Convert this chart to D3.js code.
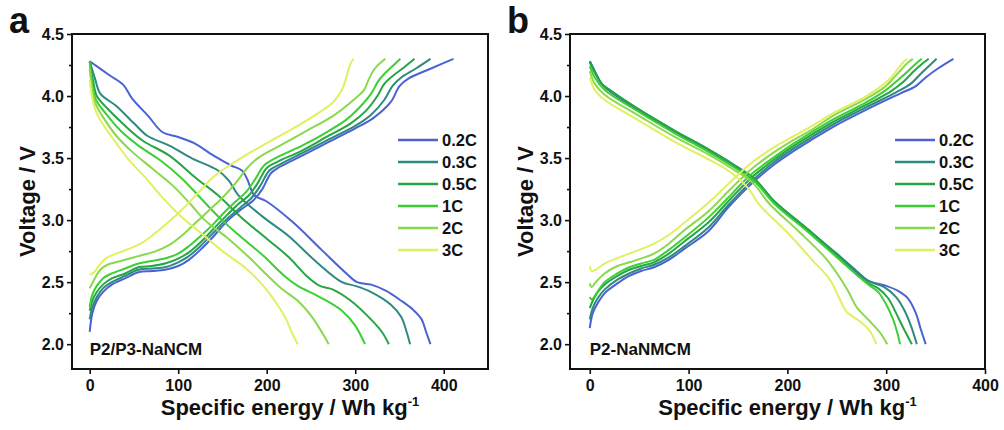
<!DOCTYPE html>
<html lang="en">
<head>
    <meta charset="UTF-8">
    <title>Voltage profiles</title>
    <script src="https://cdn.jsdelivr.net/npm/d3@7"></script>
    <style>
        body { margin: 0; background: #fff; }
        text { font-family: "Liberation Sans", Arial, sans-serif; font-weight: bold; fill: #111; }
        .tick line { stroke: #111; stroke-width: 1.6; }
        .domain { display: none; }
    </style>
</head>
<body>
<div id="container"></div>
<script>
    // rates shown in the legend
    const rates = ["0.2C", "0.3C", "0.5C", "1C", "2C", "3C"];
    const yTicks = [2.0, 2.5, 3.0, 3.5, 4.0, 4.5];
    const yMinor = [2.25, 2.75, 3.25, 3.75, 4.25];
    const xTicks = [0, 100, 200, 300, 400];

    // panel a, P2/P3-NaNCM: [specific energy, voltage]
    const aChg02 = [[0,2.10],[3,2.25],[8,2.35],[15,2.42],[25,2.48],[40,2.53],[55,2.58],[70,2.59],[85,2.60],[100,2.63],[112,2.68],[125,2.76],[140,2.87],[155,2.99],[170,3.08],[185,3.16],[195,3.25],[205,3.38],[215,3.43],[240,3.52],[270,3.63],[300,3.74],[320,3.82],[340,3.95],[350,4.08],[360,4.14],[385,4.22],[411,4.30]];
    const aChg03 = [[0,2.20],[3,2.30],[8,2.38],[15,2.45],[25,2.50],[40,2.55],[55,2.60],[70,2.61],[85,2.62],[100,2.66],[112,2.71],[125,2.79],[140,2.90],[155,3.01],[170,3.10],[183,3.18],[193,3.28],[203,3.40],[215,3.45],[240,3.54],[270,3.65],[300,3.76],[318,3.85],[333,3.97],[342,4.08],[352,4.15],[368,4.22],[385,4.30]];
    const aChg05 = [[0,2.27],[3,2.35],[8,2.42],[15,2.48],[25,2.53],[40,2.57],[55,2.62],[70,2.63],[85,2.65],[100,2.69],[112,2.74],[125,2.82],[140,2.93],[155,3.04],[168,3.13],[180,3.20],[190,3.30],[200,3.42],[212,3.47],[240,3.56],[270,3.68],[295,3.78],[312,3.88],[325,4.00],[333,4.10],[342,4.16],[355,4.23],[367,4.30]];
    const aChg1 = [[0,2.30],[3,2.40],[8,2.47],[15,2.53],[25,2.57],[40,2.61],[55,2.65],[70,2.67],[85,2.69],[100,2.73],[112,2.79],[125,2.87],[140,2.97],[153,3.07],[165,3.15],[177,3.23],[187,3.33],[197,3.44],[210,3.50],[240,3.60],[268,3.71],[290,3.81],[305,3.91],[318,4.02],[326,4.12],[333,4.18],[342,4.24],[351,4.30]];
    const aChg2 = [[0,2.45],[5,2.52],[12,2.60],[20,2.64],[35,2.67],[55,2.71],[75,2.75],[90,2.80],[105,2.88],[120,2.98],[135,3.08],[150,3.18],[165,3.30],[178,3.42],[190,3.50],[215,3.60],[245,3.72],[275,3.84],[300,3.98],[310,4.05],[315,4.13],[322,4.22],[334,4.30]];
    const aChg3 = [[0,2.56],[5,2.58],[10,2.63],[18,2.69],[30,2.73],[45,2.77],[60,2.82],[75,2.90],[90,2.99],[105,3.09],[120,3.20],[140,3.35],[160,3.45],[185,3.56],[210,3.66],[235,3.76],[260,3.87],[275,3.95],[285,4.05],[290,4.15],[294,4.25],[298,4.30]];
    const aDis02 = [[0,4.28],[22,4.17],[38,4.09],[48,3.98],[66,3.84],[82,3.71],[100,3.67],[118,3.62],[140,3.52],[160,3.44],[172,3.40],[178,3.33],[186,3.20],[200,3.15],[230,2.98],[262,2.76],[290,2.57],[302,2.50],[318,2.48],[335,2.43],[352,2.35],[365,2.28],[375,2.20],[380,2.10],[385,2.00]];
    const aDis03 = [[0,4.28],[6,4.14],[12,4.02],[30,3.92],[50,3.78],[65,3.68],[90,3.60],[115,3.50],[145,3.40],[157,3.32],[168,3.20],[195,3.03],[225,2.87],[255,2.67],[285,2.50],[300,2.47],[318,2.42],[340,2.32],[352,2.22],[358,2.10],[362,2.00]];
    const aDis05 = [[0,4.28],[4,4.12],[8,4.00],[20,3.90],[40,3.76],[60,3.64],[90,3.52],[120,3.34],[145,3.20],[170,3.03],[200,2.85],[225,2.70],[245,2.55],[260,2.47],[275,2.44],[295,2.35],[315,2.22],[330,2.10],[338,2.00]];
    const aDis1 = [[0,4.28],[3,4.10],[7,3.97],[18,3.86],[35,3.72],[55,3.60],[80,3.48],[105,3.33],[125,3.18],[148,3.01],[170,2.87],[195,2.72],[220,2.55],[235,2.47],[260,2.38],[285,2.27],[300,2.15],[311,2.00]];
    const aDis2 = [[0,4.22],[3,4.05],[7,3.93],[16,3.82],[30,3.68],[48,3.55],[70,3.42],[95,3.27],[115,3.12],[130,3.00],[155,2.86],[180,2.70],[200,2.56],[218,2.44],[235,2.35],[250,2.23],[262,2.10],[270,2.00]];
    const aDis3 = [[0,4.13],[3,3.98],[8,3.86],[18,3.74],[30,3.62],[45,3.48],[62,3.35],[80,3.20],[100,3.05],[125,2.90],[150,2.75],[175,2.62],[195,2.48],[210,2.34],[222,2.20],[228,2.10],[235,2.00]];

    // panel b, P2-NaNMCM
    const bChg02 = [[0,2.13],[3,2.25],[8,2.33],[15,2.41],[28,2.49],[40,2.55],[52,2.59],[65,2.62],[80,2.68],[96,2.77],[120,2.91],[140,3.10],[162,3.28],[187,3.45],[205,3.55],[225,3.65],[246,3.75],[280,3.89],[314,4.02],[330,4.08],[340,4.15],[352,4.22],[368,4.30]];
    const bChg03 = [[0,2.20],[3,2.29],[8,2.37],[15,2.44],[28,2.52],[40,2.57],[52,2.61],[65,2.64],[80,2.70],[96,2.79],[120,2.94],[140,3.12],[162,3.30],[187,3.47],[205,3.57],[225,3.67],[246,3.77],[280,3.91],[310,4.03],[325,4.10],[335,4.18],[343,4.24],[351,4.30]];
    const bChg05 = [[0,2.29],[3,2.35],[8,2.42],[15,2.48],[28,2.55],[40,2.60],[52,2.63],[65,2.66],[80,2.73],[96,2.83],[120,2.98],[140,3.15],[162,3.33],[187,3.49],[205,3.59],[225,3.69],[246,3.79],[280,3.93],[305,4.04],[318,4.12],[328,4.20],[335,4.25],[343,4.30]];
    const bChg1 = [[0,2.38],[2,2.36],[6,2.40],[15,2.50],[28,2.57],[40,2.62],[52,2.65],[65,2.68],[80,2.76],[96,2.86],[120,3.02],[140,3.18],[162,3.36],[187,3.51],[205,3.61],[225,3.71],[246,3.81],[280,3.95],[300,4.05],[312,4.13],[322,4.20],[330,4.26],[336,4.30]];
    const bChg2 = [[0,2.49],[2,2.46],[6,2.50],[15,2.57],[28,2.63],[40,2.66],[52,2.69],[65,2.73],[80,2.81],[96,2.92],[120,3.07],[140,3.23],[162,3.40],[187,3.55],[205,3.64],[225,3.73],[246,3.84],[280,3.98],[298,4.07],[308,4.15],[316,4.22],[322,4.27],[327,4.30]];
    const bChg3 = [[0,2.63],[2,2.59],[6,2.60],[15,2.65],[30,2.70],[50,2.76],[65,2.81],[80,2.88],[96,2.98],[120,3.14],[140,3.29],[162,3.45],[187,3.59],[205,3.67],[225,3.76],[246,3.86],[280,4.00],[295,4.08],[305,4.15],[312,4.22],[317,4.27],[321,4.30]];
    const bDis02 = [[0,4.28],[5,4.20],[12,4.10],[20,4.04],[50,3.88],[86,3.71],[120,3.56],[147,3.43],[167,3.32],[187,3.14],[220,2.92],[250,2.72],[270,2.58],[282,2.51],[300,2.47],[312,2.43],[322,2.37],[330,2.25],[335,2.12],[340,2.00]];
    const bDis03 = [[0,4.28],[5,4.20],[12,4.10],[20,4.05],[50,3.89],[86,3.72],[120,3.57],[147,3.44],[167,3.33],[187,3.15],[220,2.93],[250,2.73],[270,2.59],[282,2.51],[298,2.46],[310,2.38],[318,2.28],[325,2.15],[331,2.00]];
    const bDis05 = [[0,4.27],[5,4.19],[12,4.10],[20,4.05],[50,3.89],[86,3.72],[120,3.57],[147,3.44],[167,3.33],[187,3.15],[220,2.93],[250,2.72],[268,2.58],[280,2.50],[292,2.45],[302,2.37],[310,2.25],[318,2.12],[326,2.00]];
    const bDis1 = [[0,4.24],[5,4.15],[15,4.05],[50,3.87],[86,3.70],[120,3.55],[147,3.42],[167,3.31],[187,3.13],[220,2.91],[250,2.70],[270,2.56],[282,2.48],[292,2.42],[300,2.32],[307,2.20],[311,2.10],[314,2.00]];
    const bDis2 = [[0,4.20],[5,4.10],[15,4.01],[50,3.84],[86,3.67],[120,3.53],[145,3.41],[165,3.30],[182,3.13],[210,2.92],[238,2.70],[252,2.55],[262,2.42],[270,2.30],[284,2.18],[295,2.08],[301,2.00]];
    const bDis3 = [[0,4.15],[5,4.05],[15,3.97],[50,3.80],[86,3.63],[120,3.49],[140,3.40],[160,3.26],[172,3.12],[200,2.90],[225,2.68],[243,2.52],[252,2.38],[260,2.26],[274,2.18],[284,2.10],[290,2.00]];

    const panels = [
        {letter: "a", name: "P2/P3-NaNCM", left: 72, right: 488, xMax: 450,
         charge: [aChg02, aChg03, aChg05, aChg1, aChg2, aChg3],
         discharge: [aDis02, aDis03, aDis05, aDis1, aDis2, aDis3]},
        {letter: "b", name: "P2-NaNMCM", left: 570, right: 985, xMax: 400,
         charge: [bChg02, bChg03, bChg05, bChg1, bChg2, bChg3],
         discharge: [bDis02, bDis03, bDis05, bDis1, bDis2, bDis3]}
    ];

    const color = d3.scaleOrdinal()
        .domain(rates)
        .range(["#4a62d4", "#2e8a80", "#25a545", "#3ccf34", "#8ad84c", "#e0f05e"]);

    const plotTop = 34, plotBottom = 369;

    const svg = d3.select("#container").append("svg")
        .attr("width", 1004)
        .attr("height", 430);

    const y = d3.scaleLinear().domain([1.8, 4.5]).range([plotBottom, plotTop]);

    panels.forEach(p => {
        const g = svg.append("g");
        const x = d3.scaleLinear().domain([-20, p.xMax]).range([p.left, p.right]);

        const line = d3.line()
            .x(d => x(d[0]))
            .y(d => y(d[1]))
            .curve(d3.curveCatmullRom.alpha(0.5));

        // curves, slowest rate first so the faster ones sit on top
        rates.forEach((r, i) => {
            [p.charge[i], p.discharge[i]].forEach(s => {
                g.append("path")
                    .attr("d", line(s))
                    .attr("fill", "none")
                    .attr("stroke", color(r))
                    .attr("stroke-width", 2)
                    .attr("stroke-linejoin", "round");
            });
        });

        // axes
        g.append("g")
            .attr("transform", `translate(${p.left},0)`)
            .call(d3.axisLeft(y).tickValues(yTicks).tickFormat(d3.format(".1f")).tickSize(5).tickPadding(3))
            .selectAll("text").style("font-size", "16px");
        g.append("g")
            .attr("transform", `translate(${p.left},0)`)
            .call(d3.axisLeft(y).tickValues(yMinor).tickFormat("").tickSize(3));
        g.append("g")
            .attr("transform", `translate(0,${plotBottom})`)
            .call(d3.axisBottom(x).tickValues(xTicks).tickFormat(d3.format("d")).tickSize(5).tickPadding(6))
            .selectAll("text").style("font-size", "16px");

        g.selectAll(".tick text").attr("fill", "#111");

        // frame
        g.append("rect")
            .attr("x", p.left)
            .attr("y", plotTop)
            .attr("width", p.right - p.left)
            .attr("height", plotBottom - plotTop)
            .attr("fill", "none")
            .attr("stroke", "#111")
            .attr("stroke-width", 2);

        // axis titles
        const xt = g.append("text")
            .attr("x", (p.left + p.right) / 2 + 10)
            .attr("y", 415)
            .attr("text-anchor", "middle")
            .style("font-size", "22px");
        xt.append("tspan").text("Specific energy / Wh kg");
        xt.append("tspan").attr("dy", -9).style("font-size", "13px").text("-1");

        g.append("text")
            .attr("transform", `translate(${p.left - 37},${(plotTop + plotBottom) / 2}) rotate(-90)`)
            .attr("text-anchor", "middle")
            .style("font-size", "22px")
            .text("Voltage / V");

        // panel letter
        g.append("text")
            .attr("x", p.left - 63)
            .attr("y", 33)
            .style("font-size", "36px")
            .text(p.letter);

        // sample name
        g.append("text")
            .attr("x", x(0))
            .attr("y", 355)
            .style("font-size", "17px")
            .text(p.name);

        // legend
        const lg = g.append("g").attr("transform", `translate(${p.right - 90},140)`);
        rates.forEach((r, i) => {
            lg.append("line")
                .attr("x1", 0).attr("x2", 40)
                .attr("y1", i * 22).attr("y2", i * 22)
                .attr("stroke", color(r))
                .attr("stroke-width", 2.5);
            lg.append("text")
                .attr("x", 44)
                .attr("y", i * 22 + 6)
                .style("font-size", "16.5px")
                .text(r);
        });
    });
</script>
</body>
</html>
